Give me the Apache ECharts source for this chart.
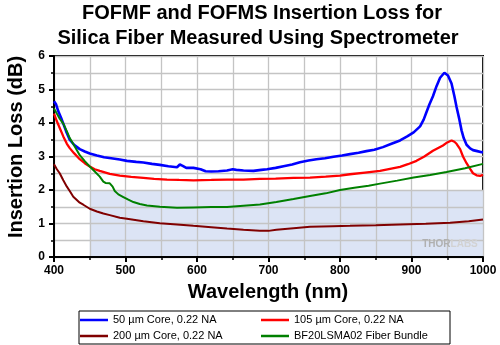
<!DOCTYPE html>
<html>
<head>
<meta charset="utf-8">
<script src="https://cdn.jsdelivr.net/npm/echarts@6/dist/echarts.min.js"></script>
<style>html,body{margin:0;padding:0;background:#fff;}#c{width:500px;height:345px;}</style>
</head>
<body>
<div id="c"></div>
<script>
// ---- data ----
var titleLines = ['FOFMF and FOFMS Insertion Loss for', 'Silica Fiber Measured Using Spectrometer'];
var xAxisTitle = 'Wavelength (nm)';
var yAxisTitle = 'Insertion Loss (dB)';
var seriesNames = ['50 µm Core, 0.22 NA', '105 µm Core, 0.22 NA', '200 µm Core, 0.22 NA', 'BF20LSMA02 Fiber Bundle'];
var xTicks = [400, 500, 600, 700, 800, 900, 1000];
var yTicks = [0, 1, 2, 3, 4, 5, 6];
var shadeX = [450, 1000];
var shadeY = [0, 2];

var blueX = [400,403,406,410,413,417,422,428,436,443,450,460,470,480,492,502,515,525,537,548,560,572,576,580,585,595,605,612,620,630,642,650,655,665,679,690,698,710,721,733,744,756,767,779,791,803,814,826,837,848,860,872,884,894,903,912,917,921,925,930,935,940,946,951,956,960,963,967,970,973,977,982,986,992,998,1000];
var blueY = [4.65,4.55,4.35,4.15,3.98,3.75,3.50,3.35,3.22,3.15,3.09,3.03,2.98,2.95,2.91,2.87,2.84,2.82,2.78,2.75,2.71,2.68,2.76,2.72,2.66,2.66,2.62,2.56,2.55,2.56,2.58,2.62,2.60,2.58,2.57,2.60,2.62,2.66,2.71,2.76,2.83,2.88,2.92,2.95,2.99,3.03,3.07,3.11,3.16,3.20,3.28,3.38,3.48,3.60,3.72,3.90,4.10,4.33,4.55,4.80,5.10,5.35,5.50,5.42,5.18,4.80,4.48,4.10,3.78,3.55,3.35,3.24,3.19,3.16,3.13,3.13];

var redX = [400,404,408,413,418,422,428,436,443,450,457,464,478,492,508,525,540,558,575,595,620,642,665,688,710,735,758,780,800,814,835,856,870,884,895,907,918,930,944,950,956,960,963,968,972,977,982,986,991,996,1000];
var redY = [4.28,4.05,3.85,3.60,3.38,3.25,3.10,2.92,2.80,2.70,2.62,2.57,2.48,2.43,2.39,2.36,2.33,2.31,2.30,2.29,2.30,2.31,2.31,2.33,2.34,2.36,2.37,2.40,2.43,2.47,2.52,2.57,2.63,2.69,2.77,2.87,3.00,3.17,3.33,3.42,3.48,3.44,3.38,3.22,3.00,2.80,2.63,2.50,2.44,2.42,2.45];

var darkX = [400,404,408,413,418,422,427,436,441,450,460,469,478,492,502,525,548,572,595,620,642,665,688,700,711,735,758,790,814,850,884,920,954,980,1000];
var darkY = [2.77,2.62,2.50,2.29,2.10,1.97,1.80,1.62,1.56,1.44,1.36,1.30,1.25,1.17,1.14,1.07,1.01,0.97,0.93,0.89,0.85,0.81,0.78,0.78,0.81,0.86,0.90,0.92,0.93,0.95,0.97,0.99,1.02,1.07,1.12];

var greenX = [400,404,408,413,418,422,429,436,443,450,457,464,469,472,478,482,485,490,497,504,511,520,530,548,572,595,620,642,665,688,711,735,758,780,800,820,840,856,880,903,926,949,975,1000];
var greenY = [4.43,4.28,4.13,3.98,3.75,3.55,3.30,3.04,2.86,2.70,2.55,2.40,2.25,2.21,2.20,2.10,1.97,1.87,1.79,1.71,1.64,1.58,1.54,1.50,1.47,1.48,1.49,1.49,1.53,1.57,1.64,1.73,1.82,1.90,2.00,2.07,2.13,2.19,2.28,2.37,2.45,2.54,2.65,2.78];

function pairs(xs, ys) { return xs.map(function (x, i) { return [x, ys[i]]; }); }

var colors = ['#0000ff', '#ff0000', '#800000', '#008000'];
var widths = [2.6, 2.3, 2, 2];
var datasets = [pairs(blueX, blueY), pairs(redX, redY), pairs(darkX, darkY), pairs(greenX, greenY)];

var font = 'Arial, "Liberation Sans", sans-serif';

var series = [{
  name: '_shade', type: 'line', z: 0, silent: true, symbol: 'none',
  data: [[shadeX[0], shadeY[0]], [shadeX[1], shadeY[0]]],
  lineStyle: { opacity: 0 },
  markArea: {
    silent: true,
    itemStyle: { color: '#dce4f5' },
    data: [[{ coord: [shadeX[0], shadeY[0]] }, { coord: [shadeX[1], shadeY[1]] }]]
  }
}];
seriesNames.forEach(function (n, i) {
  series.push({
    name: n, type: 'line', z: 5, symbol: 'none', showSymbol: false,
    data: datasets[i], clip: true,
    lineStyle: { color: colors[i], width: widths[i] },
    itemStyle: { color: colors[i] }
  });
});

var legendWidths = [143, 154, 143, 154];
var chart = echarts.init(document.getElementById('c'), null, { renderer: 'canvas' });
chart.setOption({
  animation: false,
  backgroundColor: '#fff',
  grid: { left: 54, right: 17, top: 56, bottom: 88, show: true, borderColor: '#000', borderWidth: 2, backgroundColor: '#fff' },
  xAxis: {
    type: 'value', min: xTicks[0], max: xTicks[xTicks.length - 1], interval: 100, z: 2,
    axisLine: { show: true, onZero: false, lineStyle: { color: '#000', width: 2 } },
    axisTick: { show: true, length: 5, lineStyle: { color: '#000', width: 2 } },
    minorTick: { show: true, splitNumber: 2, length: 3, lineStyle: { color: '#000', width: 1.5 } },
    splitLine: { show: true, lineStyle: { color: '#c4c4c4', width: 1.3 } },
    minorSplitLine: { show: true, lineStyle: { color: '#c4c4c4', width: 1.3 } },
    axisLabel: { color: '#000', fontFamily: font, fontWeight: 'bold', fontSize: 12, margin: 8,
      formatter: function (v) { return String(v); } }
  },
  yAxis: {
    type: 'value', min: yTicks[0], max: yTicks[yTicks.length - 1], interval: 1, z: 2,
    axisLine: { show: true, onZero: false, lineStyle: { color: '#000', width: 2 } },
    axisTick: { show: true, length: 5, lineStyle: { color: '#000', width: 2 } },
    minorTick: { show: true, splitNumber: 2, length: 3, lineStyle: { color: '#000', width: 1.5 } },
    splitLine: { show: true, lineStyle: { color: '#c4c4c4', width: 1.3 } },
    minorSplitLine: { show: true, lineStyle: { color: '#c4c4c4', width: 1.3 } },
    axisLabel: { color: '#000', fontFamily: font, fontWeight: 'bold', fontSize: 12, margin: 9 }
  },
  legend: {
    left: 79, top: 311, width: 368, orient: 'horizontal',
    padding: [3.5, 2, 2.5, 1], itemGap: 5, itemWidth: 28, itemHeight: 2.5,
    borderColor: '#000', borderWidth: 1, backgroundColor: '#fff',
    data: seriesNames.map(function (n, i) {
      return { name: n, icon: 'rect', itemStyle: { color: colors[i] }, textStyle: { width: legendWidths[i] } };
    }),
    textStyle: { fontFamily: font, fontSize: 11, color: '#000', lineHeight: 11 }
  },
  graphic: [
    { type: 'text', x: 262, y: 13.5, z: 10, style: { text: titleLines[0], font: 'bold 20px ' + font, fill: '#000', align: 'center', verticalAlign: 'middle' } },
    { type: 'text', x: 258, y: 38.5, z: 10, style: { text: titleLines[1], font: 'bold 20px ' + font, fill: '#000', align: 'center', verticalAlign: 'middle' } },
    { type: 'text', x: 268, y: 292, z: 10, style: { text: xAxisTitle, font: 'bold 20px ' + font, fill: '#000', align: 'center', verticalAlign: 'middle' } },
    { type: 'text', x: 16, y: 147, rotation: Math.PI / 2, z: 10, style: { text: yAxisTitle, font: 'bold 20px ' + font, fill: '#000', align: 'center', verticalAlign: 'middle' } },
    { type: 'text', x: 450, y: 244.5, z: 10, silent: true, style: {
      text: '{a|THOR}{b|LABS}', align: 'center', verticalAlign: 'middle',
      rich: { a: { font: 'bold 10px ' + font, fill: '#b0b0b0' }, b: { font: 'bold 10px ' + font, fill: '#d2d2d2' } }
    } }
  ],
  series: series
});
</script>
</body>
</html>
